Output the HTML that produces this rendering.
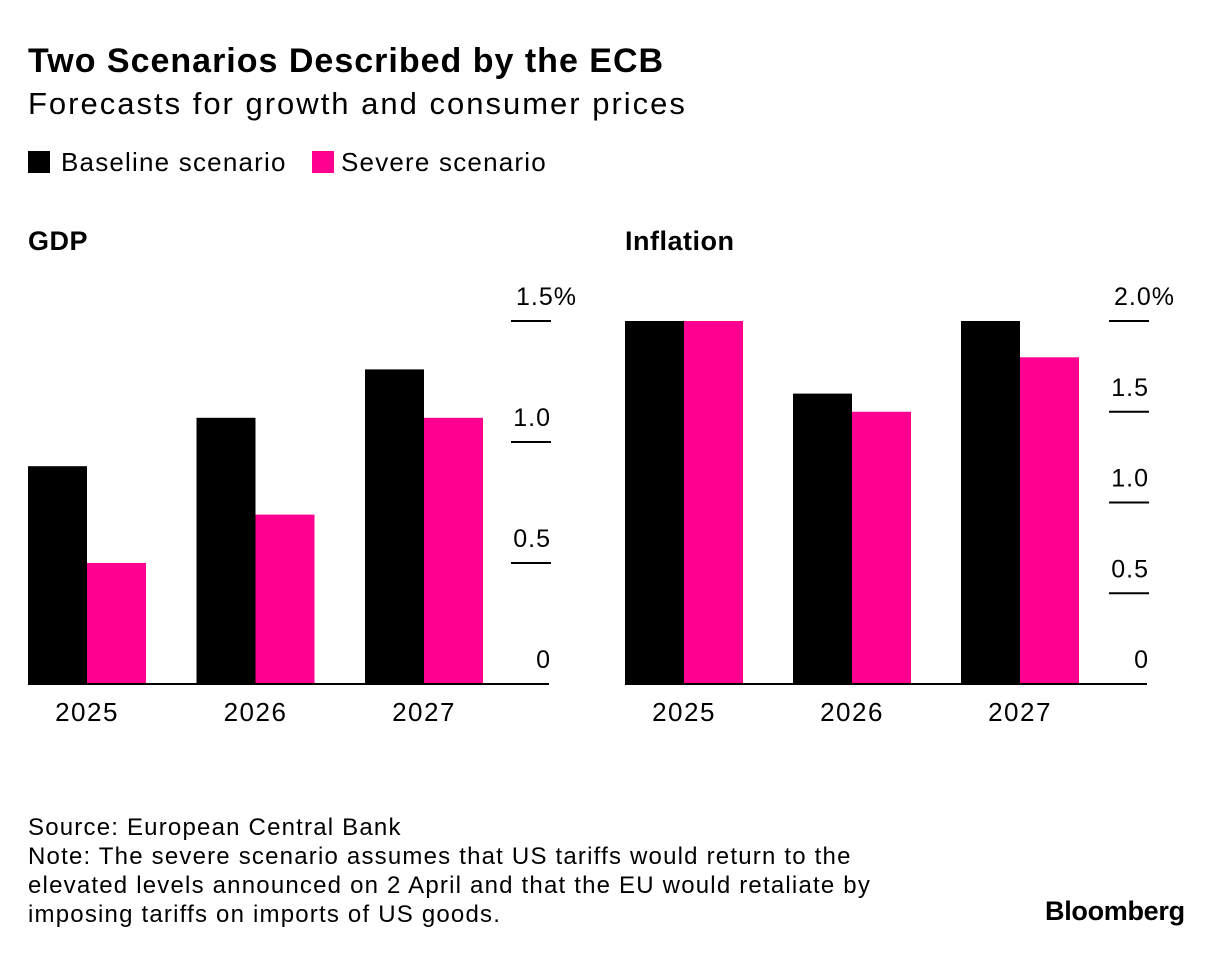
<!DOCTYPE html>
<html><head><meta charset="utf-8"><style>
body{margin:0;width:1224px;height:956px;background:#fff;font-family:"Liberation Sans",Arial,sans-serif;color:#000;position:relative;overflow:hidden}
.t{position:absolute;white-space:nowrap}
</style></head><body>
<div class="t" style="left:28px;top:42px;font-size:34px;font-weight:bold;letter-spacing:1px">Two Scenarios Described by the ECB</div>
<div class="t" style="left:28px;top:86px;font-size:31px;letter-spacing:2px">Forecasts for growth and consumer prices</div>
<div class="t" style="left:28px;top:147px;font-size:26px;letter-spacing:1.2px"><span style="display:inline-block;width:22px;height:22px;background:#000;vertical-align:-2px;margin-right:11px"></span>Baseline scenario</div>
<div class="t" style="left:312px;top:147px;font-size:26px;letter-spacing:1.2px"><span style="display:inline-block;width:22px;height:22px;background:#ff0090;vertical-align:-2px;margin-right:7px"></span>Severe scenario</div>
<svg id="chart" width="1224" height="956" style="position:absolute;left:0;top:0"></svg>
<div class="t" style="left:28px;top:813px;font-size:24px;line-height:29px;letter-spacing:1.2px">Source: European Central Bank<br>Note: The severe scenario assumes that US tariffs would return to the<br>elevated levels announced on 2 April and that the EU would retaliate by<br>imposing tariffs on imports of US goods.</div>
<div class="t" style="left:1045px;top:896px;font-size:27px;font-weight:bold;letter-spacing:-0.3px">Bloomberg</div>
<script>
const years=["2025","2026","2027"];
const gdpBaseline=[0.9,1.1,1.3];
const gdpSevere=[0.5,0.7,1.1];
const gdpTicks=[0,0.5,1.0,1.5];
const gdpTickLabels=["0","0.5","1.0","1.5%"];
const infBaseline=[2.0,1.6,2.0];
const infSevere=[2.0,1.5,1.8];
const infTicks=[0,0.5,1.0,1.5,2.0];
const infTickLabels=["0","0.5","1.0","1.5","2.0%"];
const svg=document.getElementById('chart');
const NS="http://www.w3.org/2000/svg";
const FF='Liberation Sans, Arial, sans-serif';
function mk(tag,attrs,parent){const e=document.createElementNS(NS,tag);for(const k in attrs)e.setAttribute(k,attrs[k]);(parent||svg).appendChild(e);return e;}
function panel(name,title,x0,axisEnd,tickX,max,baseline,severe,ticks,labels,groupStart,groupStep){
  const y0=684,yTop=321;
  const y=v=>y0-(v/max)*(y0-yTop);
  const g=mk('g',{});
  
  
  const t=mk('text',{x:x0,y:250,'font-size':27,'font-weight':'bold','letter-spacing':0.5,'font-family':FF},g);
  t.textContent=title;
  
  
  ticks.forEach((v,i)=>{
    if(v>0){const l=mk('line',{x1:tickX,x2:tickX+40,y1:y(v),y2:y(v),stroke:'#000','stroke-width':2},g);
      
      }
    const pct=labels[i].includes('%');
    const tx=mk('text',{x:tickX+40+(pct?26:0),y:y(v)-16,'font-size':25,'letter-spacing':1,'text-anchor':'end','font-family':FF},g);
    tx.textContent=labels[i];
    
    
  });
  years.forEach((yr,i)=>{
    const bx=groupStart+i*groupStep;
    const b=mk('rect',{x:bx,y:y(baseline[i]),width:59,height:y0-y(baseline[i]),fill:'#000'},g);
    
    
    const s=mk('rect',{x:bx+59,y:y(severe[i]),width:59,height:y0-y(severe[i]),fill:'#ff0090'},g);
    
    
    const xl=mk('text',{x:bx+59,y:721,'font-size':26,'letter-spacing':1.5,'text-anchor':'middle','font-family':FF},g);
    xl.textContent=yr;
    
    
  });
  const ax=mk('line',{x1:x0,x2:axisEnd,y1:y0,y2:y0,stroke:'#000','stroke-width':2},g);
  
  
}
panel('gdp','GDP',28,549,511,1.5,gdpBaseline,gdpSevere,gdpTicks,gdpTickLabels,28,168.5);
panel('inflation','Inflation',625,1147,1109,2.0,infBaseline,infSevere,infTicks,infTickLabels,625,168);
</script>
</body></html>
